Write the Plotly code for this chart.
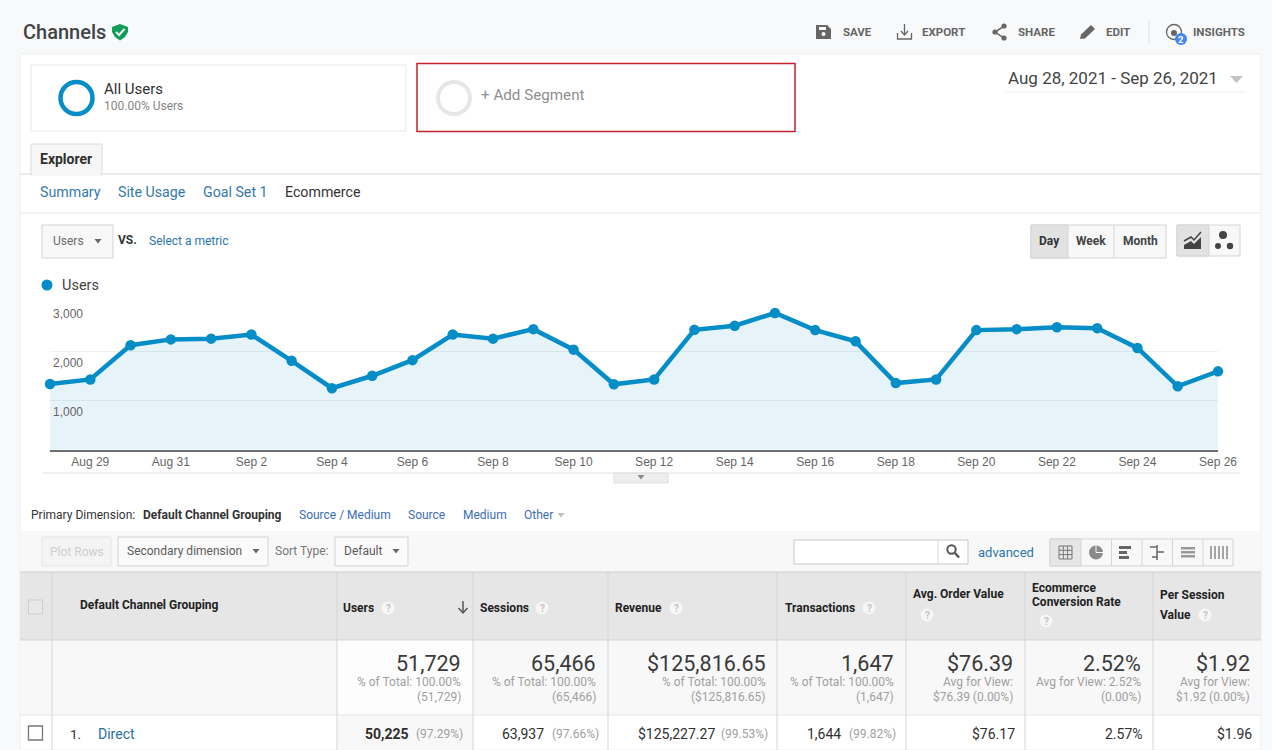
#%%
import pandas as pd
import plotly.graph_objects as go

W, H = 1272, 750

#%% Chart data

start_date = "2021-08-28"
users_daily = [1340, 1435, 2135, 2255, 2270, 2355, 1815, 1255, 1510, 1830,
               2355, 2270, 2465, 2045, 1335, 1435, 2450, 2535, 2795, 2445,
               2215, 1360, 1435, 2445, 2465, 2505, 2485, 2080, 1295, 1600]
y_ticks = [1000, 2000, 3000]
date_range_label = "Aug 28, 2021 - Sep 26, 2021"

#%% Table data

header_help = ["Users", "Sessions", "Revenue", "Transactions"]
total_values = ["51,729", "65,466", "$125,816.65", "1,647", "$76.39", "2.52%", "$1.92"]
total_line1 = ["% of Total: 100.00%", "% of Total: 100.00%", "% of Total: 100.00%", "% of Total: 100.00%",
               "Avg for View:", "Avg for View: 2.52%", "Avg for View:"]
total_line2 = ["(51,729)", "(65,466)", "($125,816.65)", "(1,647)", "$76.39 (0.00%)", "(0.00%)", "$1.92 (0.00%)"]
row_values = ["50,225", "63,937", "$125,227.27", "1,644", "$76.17", "2.57%", "$1.96"]
row_shares = ["(97.29%)", "(97.66%)", "(99.53%)", "(99.82%)"]
sub_tabs = ["Summary", "Site Usage", "Goal Set 1"]
dimension_links = ["Source / Medium", "Source", "Medium", "Other"]

BLUE = "#058dc7"
LINK = "#3579a8"
DARK = "#3c3c3c"
ICON = "#666666"

shapes = []
notes = []

#%% Pixel helpers (everything outside the plot is page furniture)

def px(x):
    return x / W

def py(y):
    return 1 - y / H

def rect(x0, y0, x1, y1, fill="rgba(0,0,0,0)", line=None, width=1, layer="below"):
    shapes.append(dict(type="rect", xref="paper", yref="paper", x0=px(x0), x1=px(x1), y0=py(y0), y1=py(y1),
                       fillcolor=fill, line=dict(color=line or "rgba(0,0,0,0)", width=width if line else 0), layer=layer))

def circle(cx, cy, r, fill="rgba(0,0,0,0)", line=None, width=1, layer="above"):
    shapes.append(dict(type="circle", xref="paper", yref="paper", x0=px(cx - r), x1=px(cx + r), y0=py(cy - r), y1=py(cy + r),
                       fillcolor=fill, line=dict(color=line or "rgba(0,0,0,0)", width=width if line else 0), layer=layer))

def poly(points, fill=None, line=None, width=1, closed=True):
    d = "M" + " L".join(f"{px(x):.5f},{py(y):.5f}" for x, y in points) + (" Z" if closed else "")
    shapes.append(dict(type="path", xref="paper", yref="paper", path=d, layer="above",
                       fillcolor=fill or "rgba(0,0,0,0)",
                       line=dict(color=line or "rgba(0,0,0,0)", width=width if line else 0)))

def hline(x0, x1, y, color="#e4e4e4", width=1):
    poly([(x0, y), (x1, y)], line=color, width=width, closed=False)

def vline(x, y0, y1, color="#d6d6d6", width=1):
    poly([(x, y0), (x, y1)], line=color, width=width, closed=False)

def arrow(cx, cy, size=4, color="#666666"):
    poly([(cx - size, cy - size * 0.6), (cx + size, cy - size * 0.6), (cx, cy + size * 0.7)], fill=color)

def txt(x, y, text, size=12, color=DARK, anchor="left", weight=400, family="Roboto"):
    # annotations sit about 1px inside their anchor
    nudge = {"left": -1, "right": 1, "center": 0}[anchor]
    notes.append(dict(xref="paper", yref="paper", x=px(x + nudge), y=py(y), text=text, showarrow=False,
                      xanchor=anchor, yanchor="middle", borderpad=0,
                      font=dict(size=size, color=color, family=family, weight=weight)))

def help_dot(cx, cy):
    circle(cx, cy, 6.5, fill="#f6f6f6")
    txt(cx, cy, "?", 10, "#c4c4c4", "center", 700)

#%% Page background and title bar

rect(0, 0, W, H, fill="#f8f9fa")
rect(20, 54, 1261, H, fill="#ffffff", line="#eeeeee")

txt(23, 32, "Channels", 20, "#404548", weight=500)
poly([(120, 24), (128, 27), (128, 32), (125, 37), (120, 40.5), (115, 37), (112, 32), (112, 27)], fill="#0f9d58")
poly([(116, 32), (119, 35), (124.5, 29)], line="#ffffff", width=2, closed=False)

# save
poly([(816, 25), (827, 25), (831, 29), (831, 39), (816, 39)], fill=ICON)
rect(819, 27, 826, 30, fill="#f8f9fa", layer="above")
circle(823.5, 34, 2, fill="#f8f9fa")
txt(843, 32, "SAVE", 11.5, ICON, weight=700)
# export
poly([(904.5, 24), (904.5, 34)], line=ICON, width=1.3, closed=False)
poly([(901, 31), (904.5, 35), (908, 31)], line=ICON, width=1.3, closed=False)
poly([(897.5, 33), (897.5, 39), (911.5, 39), (911.5, 33)], line=ICON, width=1.3, closed=False)
txt(922, 32, "EXPORT", 11.5, ICON, weight=700)
# share
poly([(1004, 26), (995, 32), (1004, 38)], line=ICON, width=1.5, closed=False)
circle(1004, 26, 2.6, fill=ICON)
circle(995, 32, 2.6, fill=ICON)
circle(1004, 38, 2.6, fill=ICON)
txt(1018, 32, "SHARE", 11.5, ICON, weight=700)
# edit
poly([(1080, 39), (1081, 34.5), (1091, 25), (1095, 29), (1085, 38.5)], fill=ICON)
txt(1106, 32, "EDIT", 11.5, ICON, weight=700)
vline(1149, 21, 43, "#e0e0e0")
# insights
circle(1174, 32, 7.5, line=ICON, width=1.3)
circle(1174, 33, 3, fill=ICON)
circle(1181, 39, 6, fill="#4285f4")
txt(1181, 39.5, "2", 9.5, "#ffffff", "center", 700)
txt(1193, 32, "INSIGHTS", 11.5, ICON, weight=700)

#%% Segments and date range

rect(31, 65, 406, 131, fill="#ffffff", line="#e8e8e8")
circle(76.5, 98, 16, line=BLUE, width=4.5)
txt(104, 89.5, "All Users", 15, "#2f2f2f")
txt(104, 106, "100.00% Users", 12, "#858585")

rect(417, 63.5, 795, 131.5, fill="#ffffff", line="#c4202e", width=1.5)
circle(454, 98, 16, line="#e6e6e6", width=4)
txt(481, 95.5, "+ Add Segment", 15.2, "#8e8e8e")

txt(1008, 78, date_range_label, 17, "#444444")
poly([(1230, 76), (1243, 76), (1236.5, 83)], fill="#c4c4c4")
hline(1005, 1246, 92, "#eeeeee")

#%% Tabs and chart controls

hline(20, 1261, 174, "#e4e4e4", 1.5)
rect(31, 144, 102, 175, fill="#f6f6f6", line="#dcdcdc")
rect(32, 172, 101, 176, fill="#f6f6f6", layer="above")
txt(40, 159, "Explorer", 14, "#2f2f2f", weight=700)
for x, label in zip([40, 118, 203], sub_tabs):
    txt(x, 192.5, label, 14.2, LINK)
txt(285, 192.5, "Ecommerce", 14.2, "#333333")
hline(20, 1261, 213, "#e6e6e6")

rect(42, 225, 113, 258, fill="#f8f8f8", line="#d4d4d4")
txt(53, 241, "Users", 12, "#6a6a6a")
arrow(98, 241, 3.5)
txt(118, 240, "VS.", 12, "#333333", weight=700)
txt(149, 241, "Select a metric", 12, "#2a76ad")

rect(1031, 225, 1166, 258, fill="#f8f8f8", line="#d4d4d4")
rect(1031, 225, 1068, 258, fill="#e2e2e2", line="#d4d4d4")
vline(1114, 225, 258)
txt(1049.5, 241, "Day", 12, "#333333", "center", 700)
txt(1091, 241, "Week", 12, "#444444", "center", 700)
txt(1140, 241, "Month", 12, "#444444", "center", 700)

rect(1177, 225, 1240, 256, fill="#f8f8f8", line="#d4d4d4")
rect(1177, 225, 1209, 256, fill="#e2e2e2", line="#d4d4d4")
poly([(1184, 249), (1184, 245), (1191, 241), (1194, 244), (1201, 237), (1201, 249)], fill="#444444")
poly([(1184, 241), (1191, 237), (1194, 240), (1201, 232)], line="#444444", width=1.5, closed=False)
circle(1223, 235, 4, fill="#444444")
circle(1218, 246, 3, fill="#444444")
circle(1230, 246, 3.2, fill="#444444")

circle(47, 285, 5.5, fill=BLUE)
txt(62, 285, "Users", 14.5, "#444444")

hline(43, 1240, 473, "#e2e2e2")
rect(614, 473, 668, 483, fill="#eeeeee", line="#dddddd")
arrow(641, 477, 3.5, "#888888")

#%% Dimension row and toolbar

txt(31, 515, "Primary Dimension:", 12, "#333333")
txt(143, 515, "Default Channel Grouping", 12, "#333333", weight=700)
for x, label in zip([299, 408, 463, 524], dimension_links):
    txt(x, 515, label, 12, "#3b6db5")
arrow(561, 515, 3.5, "#c0c0c0")

rect(20, 531, 1261, 572, fill="#f8f8f8")
rect(42, 537, 111, 566, fill="#f4f4f4", line="#e6e6e6")
txt(50, 552, "Plot Rows", 12, "#cfcfcf")
rect(118, 537, 268, 566, fill="#fafafa", line="#d4d4d4")
txt(127, 551, "Secondary dimension", 12, "#5c5c5c")
arrow(256, 551, 3.5)
txt(275, 551, "Sort Type:", 12, "#777777")
rect(335, 537, 408, 566, fill="#fafafa", line="#d4d4d4")
txt(344, 551, "Default", 12, "#5c5c5c")
arrow(396, 551, 3.5)

rect(794, 540, 968, 564, fill="#ffffff", line="#c8c8c8")
vline(938, 540, 564)
circle(951.5, 549.5, 4.2, line="#555555", width=2)
poly([(955, 553), (959, 557.5)], line="#555555", width=2.4, closed=False)
txt(978, 552.5, "advanced", 13, "#2a76ad")

rect(1050, 539, 1233, 566, fill="#f8f8f8", line="#d4d4d4")
rect(1050, 539, 1081, 566, fill="#e6e6e6", line="#d4d4d4")
for x in [1111.5, 1142, 1172.5, 1203]:
    vline(x, 539, 566)
# view icons
rect(1059, 546, 1072, 559, line="#777777", layer="above")
for d in [4.3, 8.6]:
    vline(1059 + d, 546, 559, "#777777")
    hline(1059, 1072, 546 + d, "#777777")
circle(1096, 552.5, 7, fill="#8a8a8a")
poly([(1096, 552.5), (1096, 545.5)], line="#f8f8f8", width=1, closed=False)
poly([(1096, 552.5), (1103, 552.5)], line="#f8f8f8", width=1, closed=False)
for y0, x1 in [(546, 1131), (551, 1127), (556, 1129)]:
    rect(1119, y0, x1, y0 + 3, fill="#666666", layer="above")
vline(1157, 545, 560, "#666666", 1.5)
for x0, x1, y in [(1150, 1157, 547), (1157, 1164, 552), (1152, 1157, 557)]:
    hline(x0, x1, y, "#666666", 1.5)
for y0 in [547, 551, 555]:
    rect(1181, y0, 1195, y0 + 2.5, fill="#999999", layer="above")
for x in [1211, 1215, 1219, 1223, 1227]:
    vline(x, 546, 559, "#888888", 1.5)

#%% Table

col_edges = [337, 473, 608, 777, 906, 1025, 1153]
total_right = [461, 596, 766, 894, 1013, 1141, 1250]
value_right = [409, 544, 714.5, 841, 1015, 1143, 1252]
share_right = [463, 599, 768, 896]

rect(20, 572, 1261, 640, fill="#e6e6e6")
rect(20, 640, 1261, 715, fill="#f8f8f8")
rect(337, 640, 473, 715, fill="#fdfdfd")
rect(337, 715, 473, H, fill="#f8f8f8")
hline(20, 1261, 572, "#d0d0d0")
hline(20, 1261, 640, "#d4d4d4")
hline(20, 1261, 715, "#e4e4e4")
vline(52, 572, H)
for x in col_edges:
    vline(x, 572, H)

rect(28.5, 600, 42.5, 614, fill="#e8e8e8", line="#cfcfcf", layer="above")
txt(80, 605, "Default Channel Grouping", 12, "#222222", weight=700)
for x, label, hx in zip([343, 480, 615, 785], header_help, [388, 542, 676, 869]):
    txt(x, 608, label, 12, "#222222", weight=700)
    help_dot(hx, 608)
poly([(463, 601), (463, 613)], line="#555555", width=1.5, closed=False)
poly([(458.5, 608), (463, 613), (467.5, 608)], line="#555555", width=1.5, closed=False)
txt(913, 594, "Avg. Order Value", 12, "#222222", weight=700)
help_dot(927, 615)
txt(1032, 588, "Ecommerce", 12, "#222222", weight=700)
txt(1032, 602, "Conversion Rate", 12, "#222222", weight=700)
help_dot(1046, 621)
txt(1160, 595, "Per Session", 12, "#222222", weight=700)
txt(1160, 615, "Value", 12, "#222222", weight=700)
help_dot(1205, 615)

for x, big, l1, l2 in zip(total_right, total_values, total_line1, total_line2):
    txt(x, 663.5, big, 21.5, "#3a3a3a", "right")
    txt(x, 682, l1, 12, "#a0a0a0", "right")
    txt(x, 697, l2, 12, "#a0a0a0", "right")

rect(28.5, 726, 42.5, 740, fill="#ffffff", line="#777777", width=1.3, layer="above")
txt(70, 733.5, "1.", 13.5, "#333333")
txt(98, 733.5, "Direct", 14, "#2a6f9e")
for i, (x, val) in enumerate(zip(value_right, row_values)):
    txt(x, 733.5, val, 14, "#2f2f2f", "right", 700 if i == 0 else 400)
for x, share in zip(share_right, row_shares):
    txt(x, 734, share, 12, "#a0a0a0", "right")

#%% Chart

dates = pd.date_range(start_date, periods=len(users_daily), freq="D")

fig = go.Figure()
fig.add_trace(go.Scatter(
    x=dates,
    y=users_daily,
    mode="lines+markers",
    name="Users",
    fill="tozeroy",
    fillcolor="rgba(5,141,199,0.1)",
    line=dict(color=BLUE, width=4.5),
    marker=dict(color=BLUE, size=10.5),
    cliponaxis=False,
    hoverinfo="skip",
))

fig.update_layout(
    width=W,
    height=H,
    margin=dict(l=0, r=0, t=0, b=0, autoexpand=False),
    paper_bgcolor="#ffffff",
    plot_bgcolor="rgba(0,0,0,0)",
    showlegend=False,
    shapes=shapes,
    annotations=notes,
    font=dict(family="Liberation Sans"),
    xaxis=dict(
        domain=[50 / W, 1218 / W],
        range=[dates[0], dates[-1]],
        tickvals=dates[1::2],
        tickformat="%b %-d",
        ticks="",
        showgrid=False,
        zeroline=False,
        showline=True,
        linecolor="#6e6e6e",
        linewidth=1.5,
        tickfont=dict(size=12, color="#666666"),
        automargin=False,
        anchor="y",
    ),
    yaxis=dict(
        domain=[1 - 449.5 / H, 1 - 303 / H],
        range=[0, 3000],
        tickvals=y_ticks,
        tickformat=",d",
        showgrid=True,
        gridcolor="#efefef",
        gridwidth=1,
        zeroline=False,
        showline=False,
        ticks="",
        ticklabelposition="inside",
        ticklabelshift=11,
        tickfont=dict(size=12, color="#666666"),
        automargin=False,
        anchor="x",
    ),
)

fig.write_html(
    "out.html",
    config={"displayModeBar": False},
    post_script="document.body.style.margin='0';document.body.style.overflow='hidden';",
)
